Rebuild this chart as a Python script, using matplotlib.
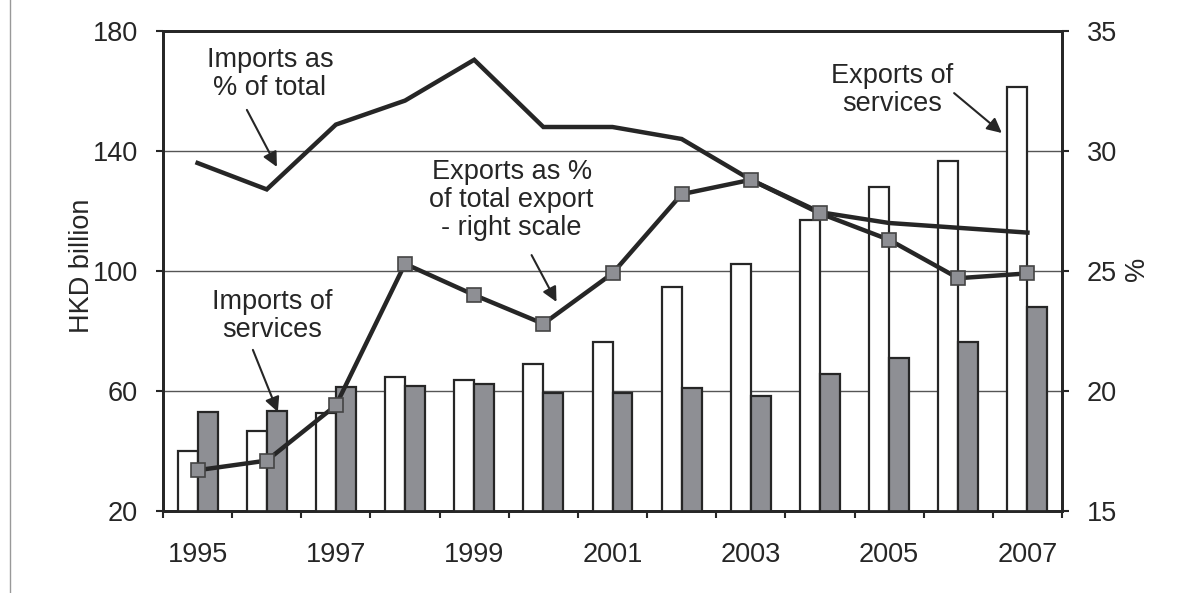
import numpy as np
import matplotlib
matplotlib.use("Agg")
import matplotlib.pyplot as plt
from matplotlib.lines import Line2D

plt.rcParams['font.family'] = ['Liberation Sans', 'DejaVu Sans']

# data
years = [1995, 1996, 1997, 1998, 1999, 2000, 2001, 2002, 2003, 2004, 2005, 2006, 2007]
exports_services = [40, 46.7, 52.7, 64.7, 63.7, 69, 76.3, 94.7, 102.3, 117, 128, 136.7, 161.3]
imports_services = [53, 53.3, 61.3, 61.7, 62.3, 59.3, 59.3, 61, 58.3, 65.7, 71, 76.3, 88]
exports_pct = [16.7, 17.1, 19.4, 25.3, 24.0, 22.8, 24.9, 28.2, 28.8, 27.4, 26.3, 24.7, 24.9]
imports_pct = [29.5, 28.4, 31.1, 32.1, 33.8, 31.0, 31.0, 30.5, 28.8, 27.45, 27.0, 26.8, 26.6]
left_ticks = [20, 60, 100, 140, 180]
right_ticks = [15, 20, 25, 30, 35]

DARK = '#262626'
GREY = '#8e8f94'
FS = 19.5

fig = plt.figure(figsize=(11.89, 5.93), dpi=100)
ax = fig.add_axes([163 / 1189, 1 - 511 / 593, 899 / 1189, 480 / 593])
ax2 = ax.twinx()

x = np.arange(len(years))
w = 0.289

# bars
ax.bar(x - w / 2, exports_services, w, bottom=0, color='white', edgecolor=DARK, linewidth=1.6, zorder=3)
ax.bar(x + w / 2, imports_services, w, bottom=0, color=GREY, edgecolor=DARK, linewidth=1.6, zorder=3)
ax.set_ylim(20, 180)
ax.set_xlim(-0.5, len(years) - 0.5)
ax.set_yticks(left_ticks)
for g in left_ticks[1:-1]:
    ax.axhline(g, color='#555555', linewidth=1.0, zorder=1)

# lines on right scale
ax2.plot(x, imports_pct, color=DARK, linewidth=3.2, solid_joinstyle='miter', zorder=4)
ax2.plot(x, exports_pct, color=DARK, linewidth=3.2, marker='s', markersize=9.5,
         markerfacecolor=GREY, markeredgecolor='#444444', markeredgewidth=1.2, zorder=5)
ax2.set_ylim(15, 35)
ax2.set_yticks(right_ticks)

# x axis: tick marks on category boundaries, labels every second year
ax.set_xticks(np.arange(len(years) + 1) - 0.5)
ax.set_xticklabels([])
ax.set_xticks(x[::2], minor=True)
ax.set_xticklabels([str(y) for y in years[::2]], minor=True)
ax.tick_params(axis='x', which='major', direction='out', length=5, width=1.5, color=DARK)
ax.tick_params(axis='x', which='minor', length=0, pad=22, labelsize=FS, labelcolor=DARK)
ax.tick_params(axis='y', direction='out', length=5, width=1.5, color=DARK, pad=13,
               labelsize=FS, labelcolor=DARK)
ax2.tick_params(axis='y', direction='out', length=5, width=1.5, color=DARK, pad=13,
                labelsize=FS, labelcolor=DARK)

for a in (ax, ax2):
    for s in a.spines.values():
        s.set_linewidth(2.0)
        s.set_color(DARK)

ax.set_ylabel('HKD billion', fontsize=FS, color=DARK)
ax.yaxis.set_label_coords(-0.0756, 0.51)
ax2.set_ylabel('%', fontsize=FS, color=DARK, rotation=90)
ax2.yaxis.set_label_coords(1.0834, 0.504)
ax2.yaxis.label.set_verticalalignment('center')

# annotations (left-scale data coordinates)
arrow = dict(arrowstyle='-|>', color=DARK, lw=1.5, mutation_scale=22, shrinkA=0, shrinkB=0)
notes = [
    ('Imports as\n% of total', (1.045, 165.7), (0.713, 153.7), (1.147, 134.7)),
    ('Exports as %\nof total export\n- right scale', (4.541, 123.7), (4.83, 105.3), (5.19, 89.7)),
    ('Imports of\nservices', (1.074, 85.0), (0.80, 73.7), (1.161, 53.0)),
    ('Exports of\nservices', (10.04, 160.3), (10.94, 159.3), (11.63, 146.0)),
]
for label, pos, tail, tip in notes:
    ax2.text(pos[0], pos[1], label, transform=ax.transData, ha='center', va='center',
             fontsize=FS, color=DARK, linespacing=1.1, zorder=6)
    ax2.annotate('', xy=tip, xytext=tail, xycoords=ax.transData, textcoords=ax.transData,
                 arrowprops=arrow, zorder=6)

# thin frame line at the left edge
fig.add_artist(Line2D([10 / 1189, 10 / 1189], [0, 1], color='#999999', linewidth=1.0))

fig.savefig('out.png', dpi=100)
